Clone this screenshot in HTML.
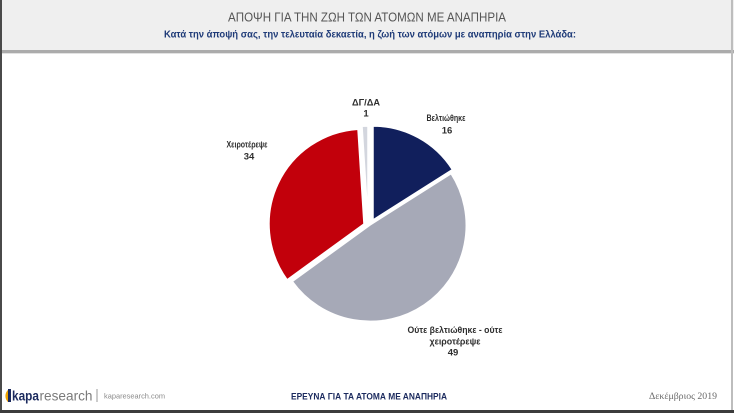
<!DOCTYPE html>
<html>
<head>
<meta charset="utf-8">
<style>
  html, body { margin: 0; padding: 0; background: #ffffff; }
  svg { display: block; }
  text { font-family: "Liberation Sans", "DejaVu Sans", sans-serif; }
</style>
</head>
<body>
<svg width="734" height="413" viewBox="0 0 734 413" xmlns="http://www.w3.org/2000/svg">
  <!-- background -->
  <rect x="0" y="0" width="734" height="413" fill="#ffffff"/>
  <!-- header -->
  <rect x="0" y="0" width="734" height="50" fill="#efefef"/>
  <rect x="0" y="50" width="734" height="3" fill="#ababab"/>
  <rect x="0" y="53" width="734" height="1" fill="#e2e2e2"/>

  <!-- borders -->
  <rect x="0" y="0" width="2" height="413" fill="#4a4a4a"/>
  <rect x="731" y="0" width="2" height="413" fill="#bdbdbd"/>
  <rect x="0" y="410" width="734" height="3" fill="#3c3c3c"/>

  <!-- titles -->
  <text x="367" y="21.5" text-anchor="middle" font-size="13" fill="#555555"
        textLength="278" lengthAdjust="spacingAndGlyphs">ΑΠΟΨΗ ΓΙΑ ΤΗΝ ΖΩΗ ΤΩΝ ΑΤΟΜΩΝ ΜΕ ΑΝΑΠΗΡΙΑ</text>
  <text x="370" y="37.5" text-anchor="middle" font-size="10.5" font-weight="bold" fill="#1f3b78"
        textLength="412" lengthAdjust="spacingAndGlyphs">Κατά την άποψή σας, την τελευταία δεκαετία, η ζωή των ατόμων με αναπηρία στην Ελλάδα:</text>

  <!-- pie slices -->
  <g stroke="#ffffff" stroke-width="1.5" stroke-linejoin="miter">
    <!-- Grey 49 -->
    <path d="M370,225 L451.1,173.6 A96,96 0 0 1 292.3,281.4 Z" fill="#a6a9b7"/>
    <!-- Red 34 -->
    <path d="M364,224 L287.1,279.8 A95,95 0 0 1 358,129.2 Z" fill="#c2000b"/>
    <!-- DG/DA 1 -->
    <path d="M368,221 L362.0,126.2 A95,95 0 0 1 368,126 Z" fill="#d3d6de"/>
    <!-- Navy 16 -->
    <path d="M373,220 L373,126 A94,94 0 0 1 452.4,169.6 Z" fill="#111f5c"/>
  </g>

  <!-- pie labels -->
  <g font-size="9.5" font-weight="bold" fill="#2e2e2e" text-anchor="middle">
    <text x="366" y="105.5" textLength="28" lengthAdjust="spacingAndGlyphs">ΔΓ/ΔΑ</text>
    <text x="366" y="116.5">1</text>

    <text x="446" y="121" textLength="39" lengthAdjust="spacingAndGlyphs">Βελτιώθηκε</text>
    <text x="447" y="133.5">16</text>

    <text x="247" y="147.5" textLength="41" lengthAdjust="spacingAndGlyphs">Χειροτέρεψε</text>
    <text x="249" y="159.5">34</text>

    <text x="455" y="333" textLength="95" lengthAdjust="spacingAndGlyphs">Ούτε βελτιώθηκε - ούτε</text>
    <text x="455" y="344.5" textLength="51" lengthAdjust="spacingAndGlyphs">χειροτέρεψε</text>
    <text x="453" y="355.5">49</text>
  </g>

  <!-- footer logo -->
  <g>
    <path d="M9,389 C5,392 4,398 8,402 L8,389 Z" fill="#f0a400"/>
    <path d="M8,389 L11,389 L11,402 L8,402 Z" fill="#1b2a5e"/>
  </g>
  <text x="12" y="400.5" font-size="14" font-weight="bold" fill="#1b2a5e"
        textLength="27" lengthAdjust="spacingAndGlyphs">kapa</text>
  <text x="39.5" y="400.5" font-size="14" fill="#7a7a7a"
        textLength="53" lengthAdjust="spacingAndGlyphs">research</text>
  <rect x="96.5" y="389" width="1" height="13" fill="#9a9a9a"/>
  <text x="104" y="398.5" font-size="7.5" fill="#8a8a8a"
        textLength="61" lengthAdjust="spacingAndGlyphs">kaparesearch.com</text>

  <text x="369" y="399.5" text-anchor="middle" font-size="9" font-weight="bold" fill="#1b2a5e"
        textLength="156" lengthAdjust="spacingAndGlyphs">ΕΡΕΥΝΑ ΓΙΑ ΤΑ ΑΤΟΜΑ ΜΕ ΑΝΑΠΗΡΙΑ</text>

  <text x="649" y="399" font-size="9" fill="#6a6a6a"
        style="font-family:'Liberation Serif', 'DejaVu Serif', serif"
        textLength="68" lengthAdjust="spacingAndGlyphs">Δεκέμβριος 2019</text>
</svg>
</body>
</html>
